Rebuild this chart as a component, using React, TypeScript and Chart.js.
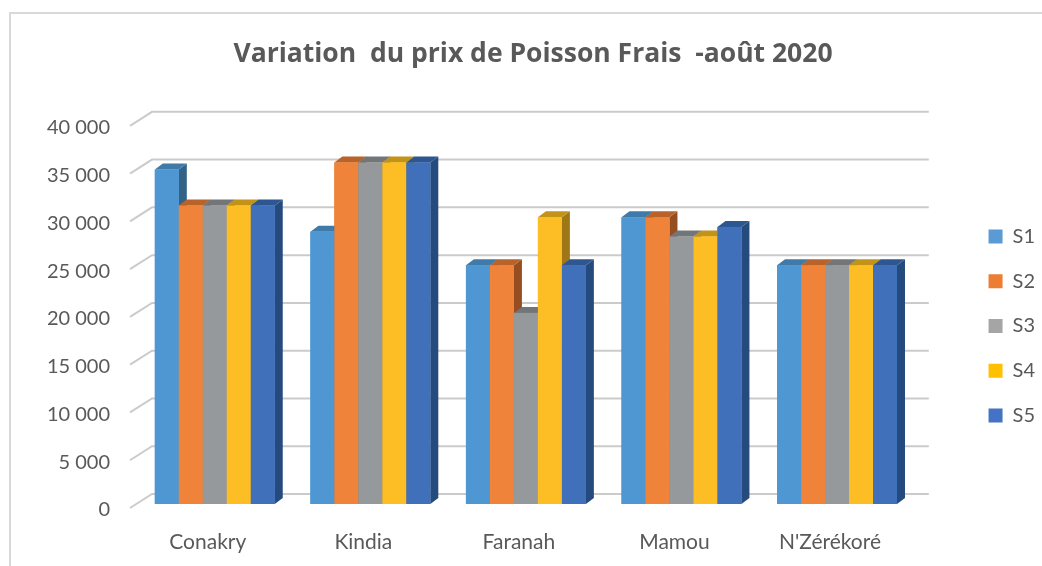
import React, { useEffect, useRef } from "react";
import { Chart, registerables } from "chart.js";

Chart.register(...registerables);

const categories = ["Conakry", "Kindia", "Faranah", "Mamou", "N'Zérékoré"];
const seriesNames = ["S1", "S2", "S3", "S4", "S5"];
const s1 = [35000, 28500, 25000, 30000, 25000];
const s2 = [31250, 35750, 25000, 30000, 25000];
const s3 = [31250, 35750, 20000, 28000, 25000];
const s4 = [31250, 35750, 30000, 28000, 25000];
const s5 = [31250, 35750, 25000, 29000, 25000];
const seriesValues = [s1, s2, s3, s4, s5];
const titleText = "Variation  du prix de Poisson Frais  -août 2020";

const legendColors = ["#5B9BD5", "#ED7D31", "#A5A5A5", "#FFC000", "#4472C4"];
const frontColors = ["#4f97d3", "#ef833a", "#96999b", "#fdbd25", "#3f70b9"];
const topColors = ["#3f7aa9", "#b9622a", "#727678", "#c39318", "#2e5792"];
const sideColors = ["#336287", "#964d20", "#5e6264", "#9f7714", "#244a7e"];

const FONT = "Lato, 'Open Sans', sans-serif";
const TITLE_FONT = "'Open Sans', Lato, sans-serif";
const TEXT = "#595959";

const fmt = (v: number) => String(v).replace(/\B(?=(\d{3})+(?!\d))/g, " ");

const depthPlugin = {
  id: "depth3d",
  beforeDraw(chart: any) {
    const { ctx, chartArea, scales } = chart;
    ctx.save();
    ctx.strokeStyle = "#d9d9d9";
    ctx.lineWidth = 2;
    ctx.beginPath();
    ctx.moveTo(10, 700);
    ctx.lineTo(10, 13);
    ctx.lineTo(1200, 13);
    ctx.stroke();
    const y = scales.y;
    ctx.strokeStyle = "#cbcbcb";
    ctx.lineWidth = 2;
    y.ticks.forEach((t: any) => {
      const py = y.getPixelForValue(t.value);
      ctx.beginPath();
      ctx.moveTo(chartArea.left - 7, py + 4);
      ctx.lineTo(chartArea.left + 15, py - 10);
      ctx.lineTo(chartArea.right + 14, py - 10);
      ctx.stroke();
    });
    ctx.restore();
  },
  afterDatasetsDraw(chart: any) {
    const { ctx } = chart;
    const dx = 8;
    const dy = -6;
    ctx.save();
    for (let j = 0; j < categories.length; j++) {
      for (let i = 0; i < seriesValues.length; i++) {
        const el: any = chart.getDatasetMeta(i).data[j];
        if (!el) continue;
        const w = el.width;
        const x = el.x - w / 2;
        const top = el.y;
        const bottom = el.base;
        ctx.fillStyle = sideColors[i];
        ctx.beginPath();
        ctx.moveTo(x + w, top);
        ctx.lineTo(x + w + dx, top + dy);
        ctx.lineTo(x + w + dx, bottom + dy);
        ctx.lineTo(x + w, bottom);
        ctx.closePath();
        ctx.fill();
        ctx.fillStyle = topColors[i];
        ctx.beginPath();
        ctx.moveTo(x, top);
        ctx.lineTo(x + dx, top + dy);
        ctx.lineTo(x + w + dx, top + dy);
        ctx.lineTo(x + w, top);
        ctx.closePath();
        ctx.fill();
        ctx.fillStyle = frontColors[i];
        ctx.fillRect(x, top, w, bottom - top);
      }
    }
    ctx.restore();
  },
};

export default function App() {
  const ref = useRef<HTMLCanvasElement | null>(null);
  useEffect(() => {
    if (!ref.current) return;
    const chart = new Chart(ref.current, {
      type: "bar",
      data: {
        labels: categories,
        datasets: seriesValues.map((vals, i) => ({
          label: seriesNames[i],
          data: vals,
          backgroundColor: legendColors[i],
          borderWidth: 0,
          categoryPercentage: 0.771,
          barPercentage: 1,
          yAxisID: "y",
        })),
      },
      options: {
        responsive: false,
        animation: false,
        layout: { padding: { top: 0, right: -3, bottom: 0, left: 21 } },
        plugins: {
          tooltip: { enabled: false },
          title: {
            display: true,
            text: titleText,
            color: TEXT,
            font: { family: TITLE_FONT, size: 26.5, weight: "bold" },
            padding: { top: 39, bottom: 51 },
          },
          legend: {
            position: "right",
            fullSize: false,
            title: { display: true, text: "", font: { size: 10 }, padding: { top: 7, bottom: 7 } },
            labels: {
              boxWidth: 14,
              boxHeight: 14,
              padding: 24.75,
              color: TEXT,
              font: { family: FONT, size: 20 },
            },
          },
        },
        scales: {
          x: {
            grid: { display: false },
            border: { display: false },
            ticks: {
              color: TEXT,
              font: { family: FONT, size: 21 },
              padding: 18,
              labelOffset: -7,
              maxRotation: 0,
              autoSkip: false,
            },
            afterFit: (s: any) => {
              s.height = 62;
            },
          },
          y: {
            min: 0,
            max: 40000,
            grid: { display: false, drawTicks: false },
            border: { display: false },
            ticks: {
              stepSize: 5000,
              color: TEXT,
              font: { family: FONT, size: 20 },
              padding: 27,
              labelOffset: 6,
              callback: (v: any) => fmt(Number(v)),
            },
            afterFit: (s: any) => {
              s.width = 116;
            },
          },
          yR: {
            type: "linear",
            position: "right",
            display: true,
            grid: { display: false },
            border: { display: false },
            ticks: { display: false },
            afterFit: (s: any) => {
              s.width = 49;
            },
          },
        },
      },
      plugins: [depthPlugin],
    } as any);
    return () => chart.destroy();
  }, []);
  return (
    <div style={{ position: "fixed", left: 0, top: 0, width: 1042, height: 566, background: "#fff" }}>
      <canvas ref={ref} width={1042} height={566} style={{ display: "block" }} />
    </div>
  );
}
